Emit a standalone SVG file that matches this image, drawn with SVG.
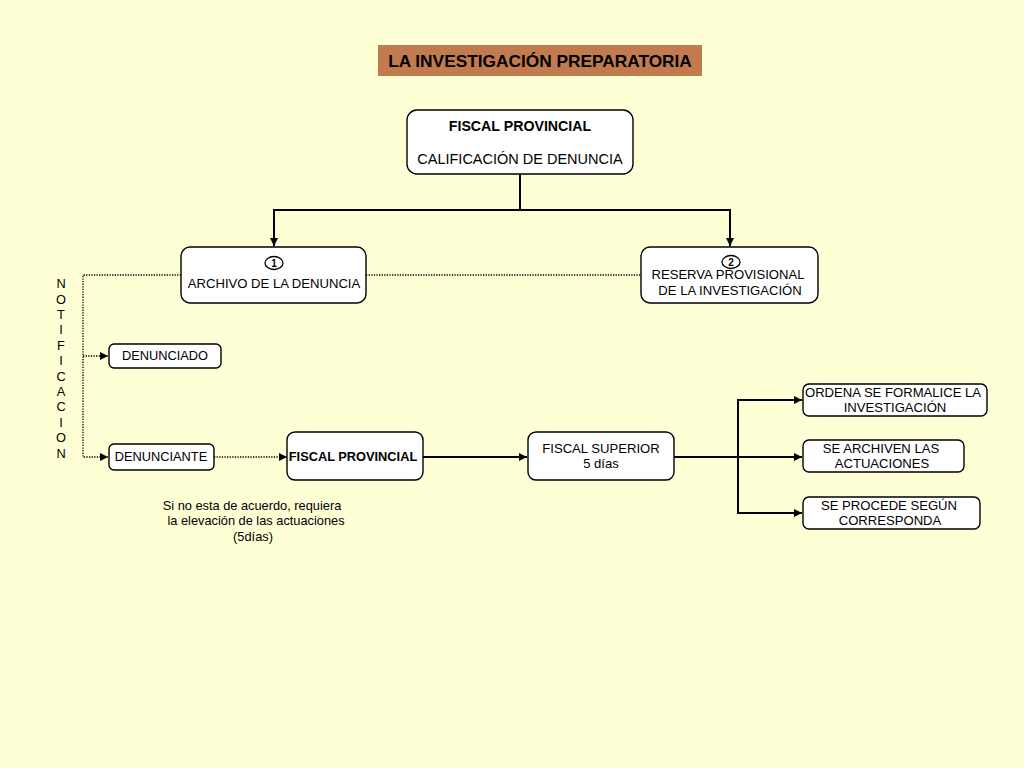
<svg xmlns="http://www.w3.org/2000/svg" width="1024" height="768" viewBox="0 0 1024 768">
<defs>
<marker id="ah" viewBox="0 0 10 10" refX="10" refY="5" markerWidth="8" markerHeight="8" markerUnits="userSpaceOnUse" orient="auto"><path d="M0,0 L10,5 L0,10 z" fill="#000"/></marker>
<style>
.box{fill:#fff;stroke:#000;stroke-width:1.4}
.t{font-family:"Liberation Sans",Arial,sans-serif;font-size:12.8px;fill:#000;text-anchor:middle}
.b{font-weight:bold}
.m{font-size:13.1px}
.solid{fill:none;stroke:#000;stroke-width:2}
.dot{fill:none;stroke:#000;stroke-width:1.3;stroke-dasharray:1.3 1.3}
</style>
</defs>
<rect width="1024" height="768" fill="#FFFFD6"/>
<g id="title">
<rect x="378" y="45" width="324" height="31" fill="#C27B4E"/>
<text x="540" y="67" class="t b" style="font-size:17.3px">LA INVESTIGACIÓN PREPARATORIA</text>
</g>
<g id="connectors">
<polyline class="solid" points="520,174 520,210 274,210 274,246" marker-end="url(#ah)"/>
<polyline class="solid" points="520,210 730,210 730,246" marker-end="url(#ah)"/>
<line class="dot" x1="366" y1="275" x2="641" y2="275"/>
<polyline class="dot" points="181,275 83,275 83,457 108,457" marker-end="url(#ah)"/>
<line class="dot" x1="83" y1="356" x2="108" y2="356" marker-end="url(#ah)"/>
<line class="dot" x1="214" y1="457" x2="287" y2="457" marker-end="url(#ah)"/>
<line class="solid" x1="423" y1="457" x2="527" y2="457" marker-end="url(#ah)"/>
<line class="solid" x1="674" y1="457" x2="802" y2="457" marker-end="url(#ah)"/>
<polyline class="solid" points="802,400 738,400 738,513 802,513" marker-end="url(#ah)"/>
<line class="solid" x1="738" y1="400" x2="802" y2="400" marker-end="url(#ah)"/>
</g>
<g id="fiscal-provincial-top">
<rect class="box" x="407" y="110" width="226" height="64" rx="10"/>
<text x="520" y="131" class="t b" style="font-size:14.2px">FISCAL PROVINCIAL</text>
<text x="520" y="164" class="t" style="font-size:14.5px">CALIFICACIÓN DE DENUNCIA</text>
</g>
<g id="archivo">
<rect class="box" x="181" y="247" width="185" height="56" rx="9"/>
<ellipse cx="274" cy="263" rx="9" ry="6.5" fill="#fff" stroke="#000" stroke-width="1.3"/>
<text x="274" y="267" class="t b" style="font-size:10px">1</text>
<text x="274" y="288" class="t m">ARCHIVO DE LA DENUNCIA</text>
</g>
<g id="reserva">
<rect class="box" x="641" y="247" width="177" height="56" rx="9"/>
<ellipse cx="731" cy="262" rx="9" ry="6.5" fill="#fff" stroke="#000" stroke-width="1.3"/>
<text x="731" y="266" class="t b" style="font-size:10px">2</text>
<text x="728" y="279" class="t m">RESERVA PROVISIONAL</text>
<text x="730" y="295" class="t m">DE LA INVESTIGACIÓN</text>
</g>
<g id="notificacion">
<text class="t" x="61" y="288">N</text>
<text class="t" x="61" y="304">O</text>
<text class="t" x="61" y="319">T</text>
<text class="t" x="61" y="334">I</text>
<text class="t" x="61" y="350">F</text>
<text class="t" x="61" y="365">I</text>
<text class="t" x="61" y="381">C</text>
<text class="t" x="61" y="396">A</text>
<text class="t" x="61" y="411">C</text>
<text class="t" x="61" y="427">I</text>
<text class="t" x="61" y="442">O</text>
<text class="t" x="61" y="458">N</text>
</g>
<g id="denunciado">
<rect class="box" x="109" y="344" width="112" height="24" rx="5"/>
<text x="165" y="360" class="t">DENUNCIADO</text>
</g>
<g id="denunciante">
<rect class="box" x="109" y="444" width="105" height="26" rx="5"/>
<text x="161" y="461" class="t">DENUNCIANTE</text>
</g>
<g id="fiscal-provincial">
<rect class="box" x="287" y="432" width="136" height="48" rx="8"/>
<text x="353" y="461" class="t b">FISCAL PROVINCIAL</text>
</g>
<g id="fiscal-superior">
<rect class="box" x="528" y="432" width="146" height="48" rx="8"/>
<text x="601" y="453" class="t m">FISCAL SUPERIOR</text>
<text x="601" y="468" class="t m">5 días</text>
</g>
<g id="ordena">
<rect class="box" x="803" y="384" width="184" height="32" rx="6"/>
<text x="893" y="397" class="t m">ORDENA SE FORMALICE LA</text>
<text x="895" y="412" class="t m">INVESTIGACIÓN</text>
</g>
<g id="archiven">
<rect class="box" x="803" y="440" width="161" height="32" rx="6"/>
<text x="881" y="453" class="t m">SE ARCHIVEN LAS</text>
<text x="882" y="468" class="t m">ACTUACIONES</text>
</g>
<g id="procede">
<rect class="box" x="803" y="497" width="177" height="32" rx="6"/>
<text x="889" y="510" class="t m">SE PROCEDE SEGÚN</text>
<text x="890" y="525" class="t m">CORRESPONDA</text>
</g>
<g id="caption">
<text x="252" y="510" class="t">Si no esta de acuerdo, requiera</text>
<text x="256" y="525" class="t">la elevación de las actuaciones</text>
<text x="253" y="541" class="t">(5días)</text>
</g>
</svg>
